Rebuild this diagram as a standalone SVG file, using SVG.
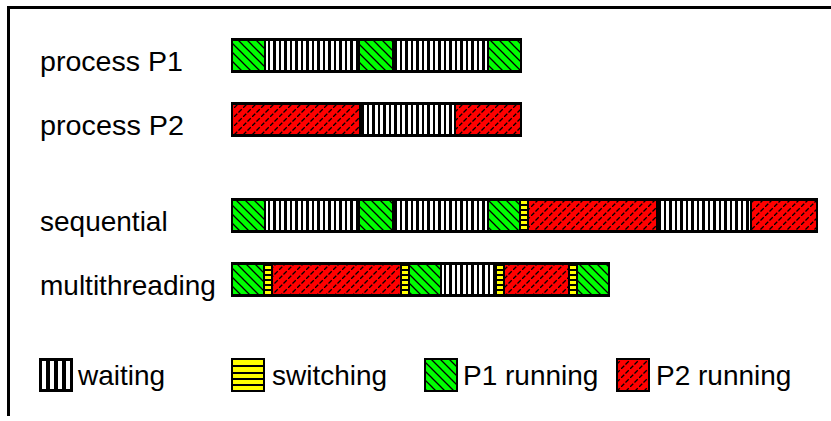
<svg xmlns="http://www.w3.org/2000/svg" width="831" height="421" viewBox="0 0 831 421">
  <style>
    .lbl { font-family: "Liberation Sans", Arial, Helvetica, sans-serif; font-size: 28px; fill: #000; }
    .frame { fill: #000; }
    .bar { fill: #000; }
    .run1 { fill: url(#p1run); }
    .run2 { fill: url(#p2run); }
    .wait { fill: url(#waitPat); }
    .sw { fill: url(#swPat); }
    rect { shape-rendering: crispEdges; }
  </style>
  <defs>
    <!-- P1 running: green with black "\" hatching -->
    <pattern id="p1run" patternUnits="userSpaceOnUse" width="9" height="9">
      <rect width="9" height="9" fill="#00ff00"/>
      <path d="M0,0 L9,9 M-1,8 L1,10 M8,-1 L10,1" stroke="#000" stroke-width="1.3" fill="none"/>
    </pattern>
    <!-- P2 running: red with broken black "/" hatching -->
    <pattern id="p2run" patternUnits="userSpaceOnUse" width="9" height="9">
      <rect width="9" height="9" fill="#ff0000"/>
      <path d="M0,9 L9,0" stroke="#000" stroke-width="1.3" stroke-dasharray="4.6 1.76" fill="none"/>
    </pattern>
    <!-- waiting: white vertical stripes on black -->
    <pattern id="waitPat" patternUnits="userSpaceOnUse" width="11" height="10">
      <rect width="11" height="10" fill="#000"/>
      <rect x="1" width="3" height="10" fill="#fff"/>
      <rect x="6" width="3" height="10" fill="#fff"/>
    </pattern>
    <!-- switching: yellow with black horizontal lines -->
    <pattern id="swPat" patternUnits="userSpaceOnUse" width="10" height="5" y="1">
      <rect width="10" height="5" fill="#000"/>
      <rect width="10" height="3" fill="#ffff00"/>
    </pattern>
  </defs>

  <!-- frame edges -->
  <g id="frame">
    <rect class="frame" x="7" y="6" width="824" height="3"/>
    <rect class="frame" x="7" y="6" width="3" height="410"/>
  </g>

  <!-- process P1 -->
  <g id="row-p1">
    <text class="lbl" x="40" y="71" textLength="143" lengthAdjust="spacingAndGlyphs">process P1</text>
    <rect class="bar" x="231" y="38" width="291" height="35"/>
    <rect class="run1" x="233" y="41" width="31" height="29"/>
    <rect class="wait" x="266" y="41" width="92" height="29"/>
    <rect class="run1" x="360" y="41" width="32" height="29"/>
    <rect class="wait" x="394" y="41" width="93" height="29"/>
    <rect class="run1" x="489" y="41" width="31" height="29"/>
  </g>

  <!-- process P2 -->
  <g id="row-p2">
    <text class="lbl" x="40" y="135" textLength="144" lengthAdjust="spacingAndGlyphs">process P2</text>
    <rect class="bar" x="231" y="102" width="291" height="35"/>
    <rect class="run2" x="233" y="105" width="126" height="29"/>
    <rect class="wait" x="361" y="105" width="93" height="29"/>
    <rect class="run2" x="456" y="105" width="64" height="29"/>
  </g>

  <!-- sequential -->
  <g id="row-sequential">
    <text class="lbl" x="40" y="231">sequential</text>
    <rect class="bar" x="231" y="198" width="587" height="35"/>
    <rect class="run1" x="233" y="201" width="31" height="29"/>
    <rect class="wait" x="266" y="201" width="92" height="29"/>
    <rect class="run1" x="360" y="201" width="32" height="29"/>
    <rect class="wait" x="394" y="201" width="93" height="29"/>
    <rect class="run1" x="489" y="201" width="30" height="29"/>
    <rect class="sw" x="521" y="201" width="6" height="29"/>
    <rect class="run2" x="529" y="201" width="127" height="29"/>
    <rect class="wait" x="658" y="201" width="92" height="29"/>
    <rect class="run2" x="752" y="201" width="64" height="29"/>
  </g>

  <!-- multithreading -->
  <g id="row-multithreading">
    <text class="lbl" x="40" y="295">multithreading</text>
    <rect class="bar" x="231" y="262" width="379" height="35"/>
    <rect class="run1" x="233" y="265" width="30" height="29"/>
    <rect class="sw" x="265" y="265" width="6" height="29"/>
    <rect class="run2" x="273" y="265" width="127" height="29"/>
    <rect class="sw" x="402" y="265" width="6" height="29"/>
    <rect class="run1" x="410" y="265" width="30" height="29"/>
    <rect class="wait" x="442" y="265" width="53" height="29"/>
    <rect class="sw" x="497" y="265" width="6" height="29"/>
    <rect class="run2" x="505" y="265" width="63" height="29"/>
    <rect class="sw" x="570" y="265" width="6" height="29"/>
    <rect class="run1" x="578" y="265" width="30" height="29"/>
  </g>

  <!-- legend -->
  <g id="legend-waiting">
    <rect class="bar" x="39" y="358" width="34" height="34"/>
    <rect x="42" y="361" width="4" height="28" fill="#fff"/>
    <rect x="50" y="361" width="4" height="28" fill="#fff"/>
    <rect x="58" y="361" width="4" height="28" fill="#fff"/>
    <rect x="66" y="361" width="4" height="28" fill="#fff"/>
    <text class="lbl" x="78" y="385">waiting</text>
  </g>
  <g id="legend-switching">
    <rect class="bar" x="231" y="358" width="34" height="34"/>
    <rect x="233" y="360" width="30" height="5" fill="#ffff00"/>
    <rect x="233" y="367" width="30" height="5" fill="#ffff00"/>
    <rect x="233" y="374" width="30" height="4" fill="#ffff00"/>
    <rect x="233" y="380" width="30" height="4" fill="#ffff00"/>
    <rect x="233" y="386" width="30" height="4" fill="#ffff00"/>
    <text class="lbl" x="272" y="385">switching</text>
  </g>
  <g id="legend-p1">
    <rect class="bar" x="424" y="358" width="34" height="34"/>
    <rect class="run1" x="426" y="360" width="30" height="30"/>
    <text class="lbl" x="463" y="385">P1 running</text>
  </g>
  <g id="legend-p2">
    <rect class="bar" x="616" y="358" width="34" height="34"/>
    <rect class="run2" x="618" y="360" width="30" height="30"/>
    <text class="lbl" x="656" y="385">P2 running</text>
  </g>
</svg>
